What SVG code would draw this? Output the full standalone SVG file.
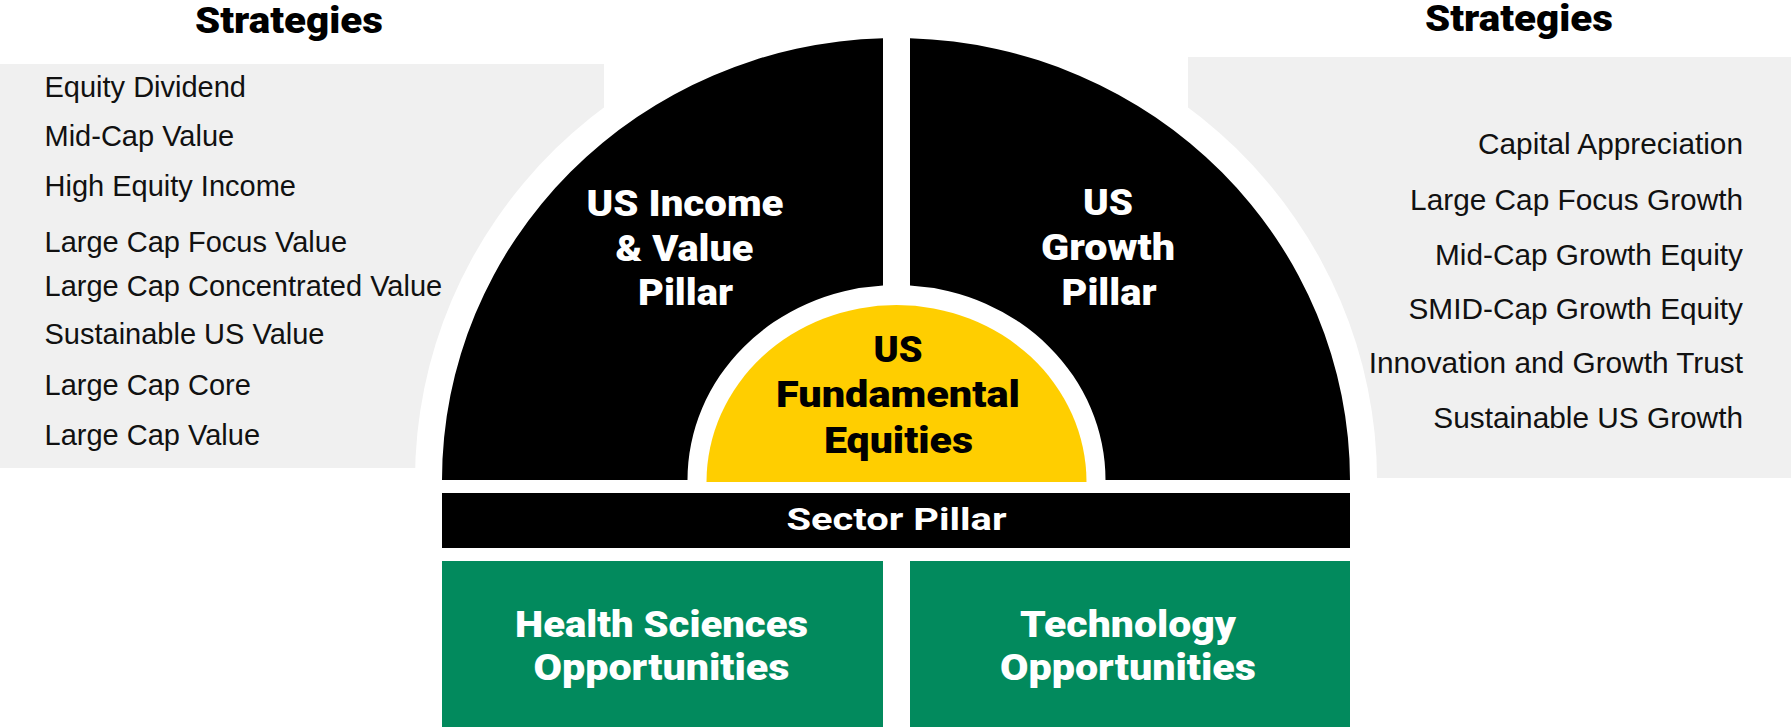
<svg xmlns="http://www.w3.org/2000/svg" width="1791" height="727" viewBox="0 0 1791 727">
<style>
.list{font-family:"Liberation Sans",Arial,sans-serif;font-size:29px;fill:#111}
.list2{font-size:29.8px}
.hv{font-family:Roboto,"Liberation Sans",sans-serif;font-weight:900;text-anchor:middle}
.h37{font-size:37px}
.wt{fill:#fff}
.bt{fill:#000}
.panel{fill:#f0f0f0}
.blk{fill:#000}
.grn{fill:#028a5d}
</style>
<rect width="1791" height="727" fill="#fff"/>
<g id="strategies-left">
  <rect class="panel" x="0" y="64" width="604" height="404"/>
</g>
<g id="strategies-right">
  <rect class="panel" x="1188" y="57" width="603" height="421"/>
</g>
<path id="ring" d="M415,480 A481 469 0 0 1 1377 480 Z" fill="#fff"/>
<g id="strategies-left-text">
  <text class="hv bt" x="289" y="33" font-size="37" textLength="188" lengthAdjust="spacingAndGlyphs">Strategies</text>
  <text class="list" x="44.5" y="97">Equity Dividend</text>
  <text class="list" x="44.5" y="146">Mid-Cap Value</text>
  <text class="list" x="44.5" y="196">High Equity Income</text>
  <text class="list" x="44.5" y="252">Large Cap Focus Value</text>
  <text class="list" x="44.5" y="296">Large Cap Concentrated Value</text>
  <text class="list" x="44.5" y="344">Sustainable US Value</text>
  <text class="list" x="44.5" y="395">Large Cap Core</text>
  <text class="list" x="44.5" y="445">Large Cap Value</text>
</g>
<g id="strategies-right-text">
  <text class="hv bt" x="1519" y="31" font-size="37" textLength="188" lengthAdjust="spacingAndGlyphs">Strategies</text>
  <g class="list list2" text-anchor="end">
    <text x="1743" y="154">Capital Appreciation</text>
    <text x="1743" y="210">Large Cap Focus Growth</text>
    <text x="1743" y="265">Mid-Cap Growth Equity</text>
    <text x="1743" y="319">SMID-Cap Growth Equity</text>
    <text x="1743" y="373">Innovation and Growth Trust</text>
    <text x="1743" y="428">Sustainable US Growth</text>
  </g>
</g>
<g id="us-income-value-pillar">
  <path class="blk" d="M442,480 A454 442 0 0 1 883 38.2 L883 285.4 A209 195 0 0 0 687.5 480 Z"/>
  <text class="hv wt h37" x="685" y="215.5" textLength="197" lengthAdjust="spacingAndGlyphs">US Income</text>
  <text class="hv wt h37" x="684.5" y="260.5" textLength="138" lengthAdjust="spacingAndGlyphs">&amp; Value</text>
  <text class="hv wt h37" x="685.5" y="305" textLength="95" lengthAdjust="spacingAndGlyphs">Pillar</text>
</g>
<g id="us-growth-pillar">
  <path class="blk" d="M910,38.2 A454 442 0 0 1 1350 480 L1105.5 480 A209 195 0 0 0 910 285.4 Z"/>
  <text class="hv wt h37" x="1108" y="215" textLength="50" lengthAdjust="spacingAndGlyphs">US</text>
  <text class="hv wt h37" x="1108" y="260" textLength="134" lengthAdjust="spacingAndGlyphs">Growth</text>
  <text class="hv wt h37" x="1109" y="305" textLength="95" lengthAdjust="spacingAndGlyphs">Pillar</text>
</g>
<g id="us-fundamental-equities">
  <path d="M706.5,482 A190 177 0 0 1 1086.5 482 Z" fill="#ffce00"/>
  <text class="hv bt h37" x="898" y="361.5" textLength="49" lengthAdjust="spacingAndGlyphs">US</text>
  <text class="hv bt h37" x="898" y="407" textLength="244" lengthAdjust="spacingAndGlyphs">Fundamental</text>
  <text class="hv bt h37" x="898.5" y="452.5" textLength="149" lengthAdjust="spacingAndGlyphs">Equities</text>
</g>
<g id="sector-pillar">
  <rect class="blk" x="442" y="493" width="908" height="55"/>
  <text x="896.5" y="530" font-family="Roboto,'Liberation Sans',sans-serif" font-weight="700" font-size="31" text-anchor="middle" fill="#fff" textLength="220" lengthAdjust="spacingAndGlyphs">Sector Pillar</text>
</g>
<g id="health-sciences-opportunities">
  <rect class="grn" x="442" y="561" width="441" height="166"/>
  <text class="hv wt h37" x="661.5" y="637" textLength="293" lengthAdjust="spacingAndGlyphs">Health Sciences</text>
  <text class="hv wt h37" x="661.5" y="680" textLength="256" lengthAdjust="spacingAndGlyphs">Opportunities</text>
</g>
<g id="technology-opportunities">
  <rect class="grn" x="910" y="561" width="440" height="166"/>
  <text class="hv wt h37" x="1128" y="637" textLength="216" lengthAdjust="spacingAndGlyphs">Technology</text>
  <text class="hv wt h37" x="1128" y="680" textLength="256" lengthAdjust="spacingAndGlyphs">Opportunities</text>
</g>
<g id="connectors"></g>
</svg>
